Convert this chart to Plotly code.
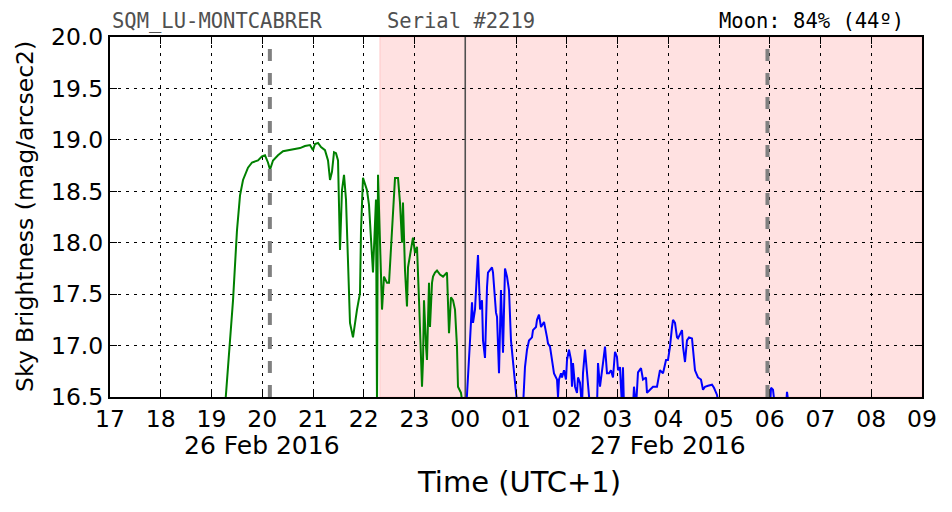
import pandas as pd
import plotly.graph_objects as go

# ---- data (hours counted from 2016-02-26 00:00, UTC+1) ----
green_hours = [19.266, 19.365, 19.424, 19.502, 19.562, 19.621, 19.719, 19.798, 19.916, 19.995,
               20.054, 20.113, 20.153, 20.212, 20.310, 20.409, 20.547, 20.744, 20.842, 20.941,
               21.000, 21.039, 21.099, 21.158, 21.236, 21.296, 21.335, 21.374, 21.414, 21.453,
               21.493, 21.532, 21.571, 21.611, 21.650, 21.690, 21.729, 21.788, 21.828, 21.867,
               21.926, 21.946, 21.985, 22.064, 22.103, 22.163, 22.182, 22.241, 22.261, 22.281,
               22.320, 22.360, 22.399, 22.458, 22.498, 22.557, 22.616, 22.675, 22.714, 22.754,
               22.773, 22.813, 22.852, 22.872, 22.911, 22.970, 23.010, 23.049, 23.089, 23.128,
               23.148, 23.168, 23.187, 23.227, 23.246, 23.286, 23.305, 23.345, 23.365, 23.404,
               23.443, 23.502, 23.562, 23.640, 23.660, 23.680, 23.719, 23.759, 23.798, 23.837,
               23.857, 23.916, 23.956]
green_values = [16.40, 17.05, 17.44, 18.12, 18.46, 18.61, 18.73, 18.78, 18.80, 18.84,
                18.85, 18.78, 18.71, 18.80, 18.85, 18.89, 18.90, 18.92, 18.94, 18.95,
                18.90, 18.96, 18.97, 18.93, 18.90, 18.80, 18.61, 18.69, 18.88, 18.87,
                18.80, 17.93, 18.51, 18.66, 18.42, 17.83, 17.22, 17.08, 17.23, 17.35,
                17.51, 18.12, 18.63, 18.51, 18.37, 17.83, 17.71, 18.42, 16.40, 18.66,
                18.00, 17.35, 17.67, 17.61, 17.61, 18.15, 18.63, 18.63, 18.39, 18.00,
                18.39, 17.73, 17.38, 17.76, 17.86, 18.05, 17.90, 17.96, 17.44, 16.93,
                16.60, 16.86, 17.44, 16.99, 16.86, 17.61, 17.18, 17.61, 17.67, 17.71,
                17.73, 17.69, 17.67, 17.71, 17.47, 17.12, 17.47, 17.44, 17.35, 16.99,
                16.60, 16.54, 16.40]

blue_hours = [24.015, 24.034, 24.094, 24.133, 24.153, 24.192, 24.231, 24.251, 24.291, 24.330,
              24.350, 24.389, 24.429, 24.448, 24.527, 24.547, 24.606, 24.626, 24.665, 24.704,
              24.744, 24.783, 24.823, 24.862, 24.901, 24.941, 25.000, 25.039, 25.138, 25.177,
              25.217, 25.256, 25.315, 25.335, 25.394, 25.414, 25.453, 25.493, 25.532, 25.552,
              25.611, 25.631, 25.670, 25.709, 25.749, 25.808, 25.828, 25.847, 25.887, 25.906,
              25.946, 25.985, 26.005, 26.044, 26.084, 26.103, 26.123, 26.163, 26.202, 26.222,
              26.261, 26.300, 26.320, 26.360, 26.399, 26.419, 26.458, 26.596, 26.616, 26.655,
              26.695, 26.714, 26.754, 26.793, 26.833, 26.872, 26.911, 26.951, 26.990, 27.010,
              27.049, 27.089, 27.108, 27.128, 27.305, 27.325, 27.365, 27.404, 27.463, 27.502,
              27.562, 27.581, 27.640, 27.700, 27.778, 27.837, 27.897, 27.956, 27.995, 28.034,
              28.074, 28.094, 28.133, 28.172, 28.192, 28.232, 28.271, 28.291, 28.330, 28.369,
              28.409, 28.468, 28.488, 28.527, 28.586, 28.645, 28.685, 28.724, 28.783, 28.862,
              28.901, 28.961, 29.000, 30.005, 30.025, 30.064, 30.103, 30.320, 30.340, 30.379]
blue_values = [16.40, 16.52, 17.05, 17.42, 17.22, 17.35, 17.71, 17.88, 17.35, 17.44,
               17.05, 16.88, 17.57, 17.71, 17.76, 17.71, 17.32, 17.28, 16.73, 17.54,
               16.93, 17.75, 17.67, 17.54, 17.05, 16.83, 16.54, 16.40, 16.40, 16.79,
               16.96, 17.05, 17.08, 17.15, 17.18, 17.25, 17.30, 17.18, 17.22, 17.23,
               17.08, 17.02, 16.99, 16.86, 16.73, 16.67, 16.50, 16.67, 16.73, 16.69,
               16.76, 16.67, 16.86, 16.96, 16.86, 16.60, 16.83, 16.60, 16.54, 16.69,
               16.64, 16.40, 16.73, 16.96, 16.73, 16.54, 16.40, 16.40, 16.83, 16.60,
               16.79, 16.83, 16.99, 16.73, 16.73, 16.76, 16.69, 16.94, 16.89, 16.76,
               16.79, 16.40, 16.79, 16.40, 16.40, 16.60, 16.40, 16.74, 16.78, 16.67,
               16.69, 16.54, 16.57, 16.60, 16.60, 16.76, 16.73, 16.86, 16.86, 16.99,
               17.18, 17.25, 17.22, 17.08, 17.07, 17.12, 17.15, 16.99, 16.84, 17.05,
               17.08, 17.07, 16.93, 16.76, 16.69, 16.67, 16.57, 16.60, 16.61, 16.62,
               16.59, 16.52, 16.40, 16.40, 16.59, 16.57, 16.40, 16.40, 16.55, 16.40]

x_range_hours = [17, 33]
y_range = [16.5, 20.0]
night_start_hour = 22.32          # shaded (moon up) region start
twilight_hours = [20.15, 29.955]  # grey dashed markers
midnight_hour = 24.0
date_labels = ["26 Feb 2016", "27 Feb 2016"]
date_label_hours = [20, 28]
title_left = "SQM_LU-MONTCABRER"
title_mid = "Serial #2219"
title_right = "Moon: 84% (44º)"

base = pd.Timestamp("2016-02-26 00:00")
def to_t(h):
    return base + pd.to_timedelta(h, unit="h")

gx = [to_t(h) for h in green_hours]
bx = [to_t(h) for h in blue_hours]

fig = go.Figure()
fig.add_trace(go.Scatter(x=gx, y=green_values, mode="lines",
                         line=dict(color="#008000", width=2), showlegend=False))
fig.add_trace(go.Scatter(x=bx, y=blue_values, mode="lines",
                         line=dict(color="#0000ff", width=2), showlegend=False))

shapes = []
shapes.append(dict(type="rect", xref="x", yref="paper",
                   x0=to_t(night_start_hour), x1=to_t(x_range_hours[1]), y0=0, y1=1,
                   fillcolor="#ffe1e1", line=dict(color="#ffc8c8", width=1), layer="below"))
for h in twilight_hours:
    shapes.append(dict(type="line", xref="x", yref="paper", x0=to_t(h), x1=to_t(h), y0=0, y1=1,
                       line=dict(color="#808080", width=4, dash="12px,12px"), layer="above"))
shapes.append(dict(type="line", xref="x", yref="paper", x0=to_t(midnight_hour), x1=to_t(midnight_hour),
                   y0=0, y1=1, line=dict(color="#505050", width=1.6), layer="above"))

font = "DejaVu Sans"
mono = "DejaVu Sans Mono"

annotations = []
for lab, h in zip(date_labels, date_label_hours):
    annotations.append(dict(text=lab, x=to_t(h), xref="x", y=-0.135, yref="paper",
                            xanchor="center", yanchor="middle", showarrow=False,
                            font=dict(family=font, size=25, color="black")))
annotations.append(dict(text="Time (UTC+1)", x=0.5035, xref="paper", y=-0.235, yref="paper",
                        xanchor="center", yanchor="middle", showarrow=False,
                        font=dict(family=font, size=29, color="black")))
annotations.append(dict(text="Sky Brightness (mag/arcsec2)", x=(25 - 110) / 812, xref="paper",
                        y=0.5, yref="paper", textangle=-90, xanchor="center", yanchor="middle",
                        showarrow=False, font=dict(family=font, size=23.5, color="black")))
annotations.append(dict(text=title_left, x=0, xref="paper", y=1.005, yref="paper",
                        xanchor="left", yanchor="bottom", showarrow=False,
                        font=dict(family=mono, size=20.5, color="#505050")))
annotations.append(dict(text=title_mid, x=(385 - 110) / 812, xref="paper", y=1.005, yref="paper",
                        xanchor="left", yanchor="bottom", showarrow=False,
                        font=dict(family=mono, size=20.5, color="#505050")))
annotations.append(dict(text=title_right, x=(906 - 110) / 812, xref="paper", y=1.005, yref="paper",
                        xanchor="right", yanchor="bottom", showarrow=False,
                        font=dict(family=mono, size=20.5, color="black")))

fig.update_layout(
    width=952, height=512,
    margin=dict(l=110, r=30, t=37, b=115),
    paper_bgcolor="white", plot_bgcolor="white",
    shapes=shapes, annotations=annotations,
    showlegend=False,
)
fig.update_xaxes(
    type="date", range=[to_t(x_range_hours[0]), to_t(x_range_hours[1])],
    dtick=3600000, tick0=to_t(17), tickformat="%H",
    showgrid=True, gridcolor="black", gridwidth=1, griddash="3px,5px",
    showline=True, linecolor="black", linewidth=2, mirror="allticks",
    ticks="inside", ticklen=7, tickwidth=1, tickcolor="black",
    tickfont=dict(family=font, size=23.5, color="black"),
    zeroline=False,
)
fig.update_yaxes(
    range=y_range, dtick=0.5, tick0=16.5, tickformat=".1f",
    showgrid=True, gridcolor="black", gridwidth=1, griddash="3px,5px",
    showline=True, linecolor="black", linewidth=2, mirror="allticks",
    ticks="inside", ticklen=7, tickwidth=1, tickcolor="black",
    tickfont=dict(family=font, size=23.5, color="black"),
    zeroline=False,
)

fig.write_html("out.html")
